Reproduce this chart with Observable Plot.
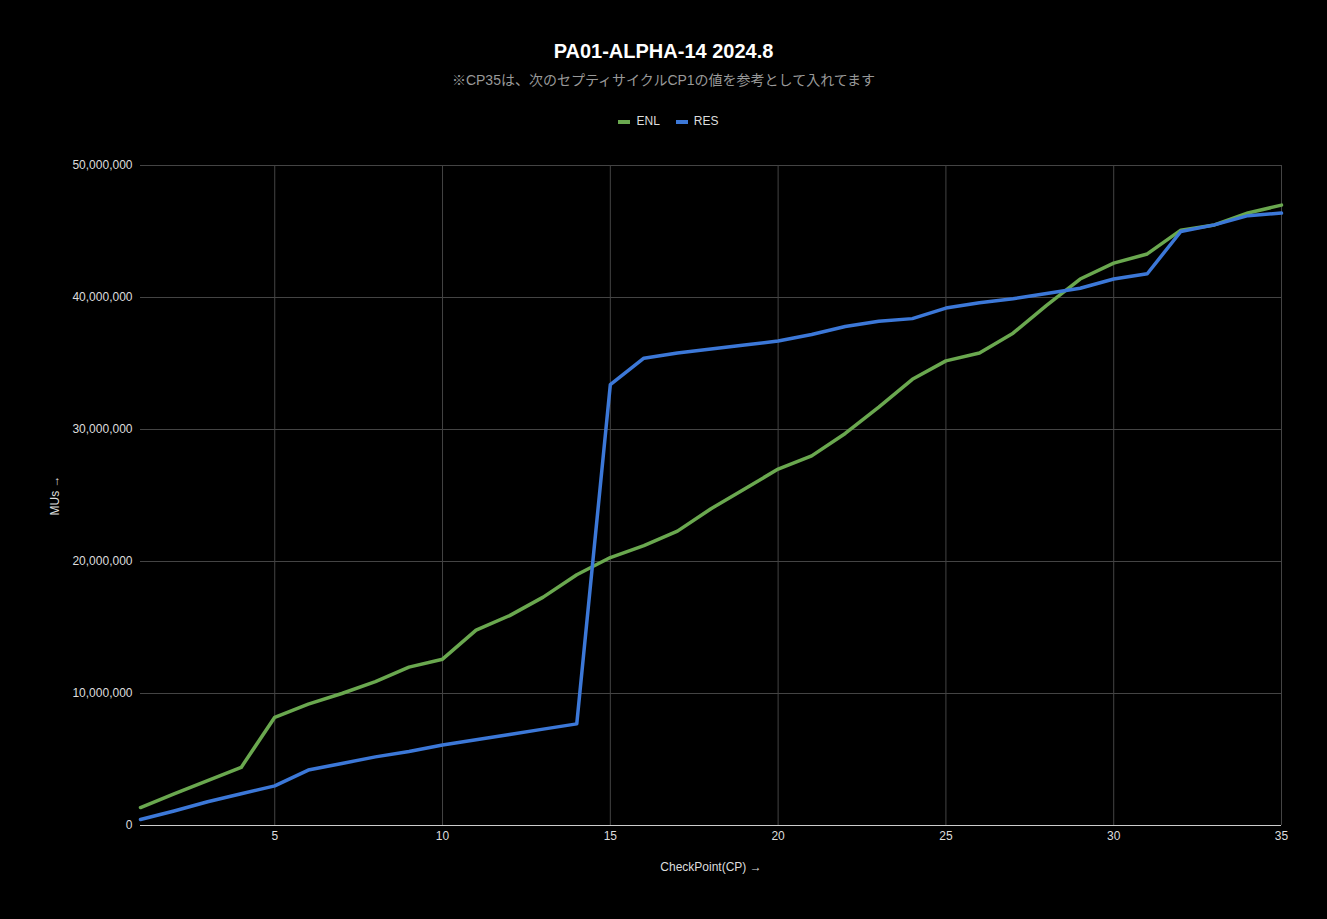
<!DOCTYPE html>
<html><head><meta charset="utf-8">
<script src="https://cdn.jsdelivr.net/npm/d3@7"></script>
<script src="https://cdn.jsdelivr.net/npm/@observablehq/plot@0.6"></script>
<style>
body{margin:0;background:#000;font-family:"Liberation Sans",Arial,sans-serif;width:1327px;height:919px;overflow:hidden}
#t{position:absolute;top:40px;width:1327px;text-align:center;color:#fff;font-size:20px;font-weight:bold}
#s{position:absolute;top:69px;width:1327px;text-align:center;color:#999;font-size:14px;font-family:"Liberation Sans","Noto Sans CJK JP",sans-serif}
#lg{position:absolute;top:114px;width:1327px;text-align:center;color:#ddd;font-size:12px}
#lg span{display:inline-block;width:12px;height:4px;vertical-align:middle;margin:0 6px 0 10px}
#c{position:absolute;top:150px;left:0}
</style></head><body>
<div id="t">PA01-ALPHA-14 2024.8</div>
<div id="s">※CP35は、次のセプティサイクルCP1の値を参考として入れてます</div>
<div id="lg"><span style="background:#6aa84f"></span>ENL<span style="background:#3c78d8;margin-left:16px"></span>RES</div>
<div id="c"></div>
<script>
const cps = d3.range(1, 36);
const enl = [1.36,2.4,3.4,4.4,8.2,9.2,10.0,10.9,12.0,12.6,14.8,15.9,17.3,19.0,20.3,21.2,22.3,24.0,25.5,27.0,28.0,29.7,31.7,33.8,35.2,35.8,37.3,39.4,41.4,42.6,43.3,45.1,45.5,46.4,47.0];
const res = [0.45,1.1,1.8,2.4,3.0,4.2,4.7,5.2,5.6,6.1,6.5,6.9,7.3,7.7,33.4,35.4,35.8,36.1,36.4,36.7,37.2,37.8,38.2,38.4,39.2,39.6,39.9,40.3,40.7,41.4,41.8,45.0,45.5,46.2,46.4];
const xTicks = [5,10,15,20,25,30,35];
const yTicks = [0,10e6,20e6,30e6,40e6,50e6];
const seriesNames = ["ENL","RES"];
const colors = ["#6aa84f","#3c78d8"];
const data = [];
cps.forEach((c,i)=>{data.push({cp:c,v:enl[i]*1e6,s:"ENL"});data.push({cp:c,v:res[i]*1e6,s:"RES"});});
const chart = Plot.plot({
  width:1327,height:740,marginLeft:140,marginRight:46,marginTop:15,marginBottom:65,
  style:{background:"#000",color:"#ddd",fontSize:"12px",fontFamily:"Liberation Sans, Arial, sans-serif"},
  x:{domain:[1,35],ticks:xTicks,label:"CheckPoint(CP)",labelAnchor:"center",labelOffset:45,tickSize:0,tickPadding:6},
  y:{domain:[0,50e6],ticks:yTicks,tickFormat:d3.format(","),label:"MUs",labelAnchor:"center",labelOffset:90,tickSize:0,tickPadding:8},
  color:{domain:seriesNames,range:colors},
  marks:[
    Plot.gridY(yTicks,{stroke:"#444",strokeOpacity:1}),
    Plot.gridX(xTicks,{stroke:"#444",strokeOpacity:1}),
    Plot.ruleY([0],{stroke:"#ccc"}),
    Plot.line(data,{x:"cp",y:"v",stroke:"s",z:"s",strokeWidth:3.5})
  ]
});
document.getElementById("c").appendChild(chart);
</script></body></html>
